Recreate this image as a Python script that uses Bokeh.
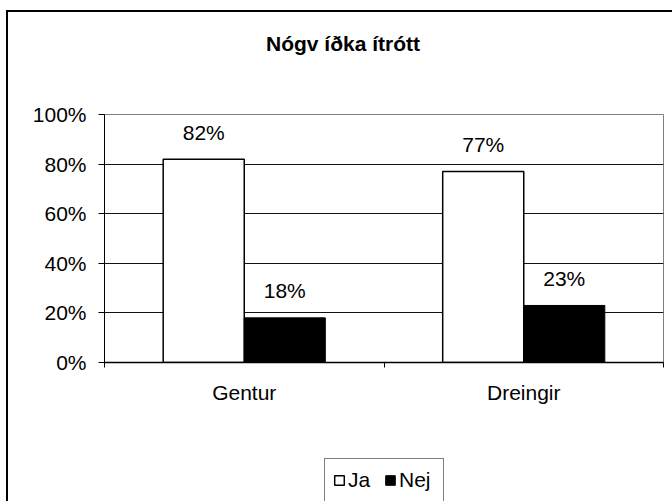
from bokeh.plotting import figure
from bokeh.layouts import column
from bokeh.models import (Range1d, FixedTicker, NumeralTickFormatter, Legend, LegendItem,
                          ColumnDataSource, Label)
from bokeh.core.properties import value
from bokeh.embed import file_html
from bokeh.resources import INLINE

# ---- data ----
title_text = "Nógv íðka ítrótt"
categories = ["Gentur", "Dreingir"]
series_names = ["Ja", "Nej"]
ja_values = [0.82, 0.77]
nej_values = [0.18, 0.23]
ja_labels = ["82%", "77%"]
nej_labels = ["18%", "23%"]
y_ticks = [0, 0.2, 0.4, 0.6, 0.8, 1.0]

FONT = "Liberation Sans"
FS = "21px"
BAR_W = 0.29
W = 664


def strip_fig(h, x_range, y_range):
    f = figure(width=W, height=h, output_backend="svg", toolbar_location=None,
               x_range=x_range, y_range=y_range,
               x_axis_type=None, y_axis_type=None,
               min_border_left=0, min_border_right=0, min_border_top=0, min_border_bottom=0)
    f.outline_line_color = None
    f.grid.visible = False
    f.background_fill_color = "white"
    f.border_fill_color = "white"
    return f


# ---- title strip ----
p_top = strip_fig(62, Range1d(0, 1), Range1d(0, 1))
p_top.add_layout(Label(x=0.5, y=0.5, x_offset=-41, text=title_text,
                       text_align="center", text_baseline="middle",
                       text_font=FONT, text_font_size="21px", text_font_style="bold",
                       text_color="black"))

# ---- main chart ----
p = figure(width=W, height=376, output_backend="svg", toolbar_location=None,
           x_range=Range1d(0, len(categories)), y_range=Range1d(0, 1),
           min_border_left=96, min_border_right=9, min_border_top=40, min_border_bottom=88)
p.background_fill_color = "white"
p.border_fill_color = "white"
p.outline_line_color = "#808080"
p.outline_line_width = 1

centers = [i + 0.5 for i in range(len(categories))]
ja_src = ColumnDataSource(dict(x=[c - BAR_W / 2 for c in centers], top=ja_values, lab=ja_labels))
nej_src = ColumnDataSource(dict(x=[c + BAR_W / 2 for c in centers], top=nej_values, lab=nej_labels))

JA_STYLE = dict(fill_color="white", line_color="black", line_width=1.5)
NEJ_STYLE = dict(fill_color="black", line_color="black", line_width=1)

p.vbar(x="x", top="top", width=BAR_W, bottom=0, source=ja_src, **JA_STYLE)
p.vbar(x="x", top="top", width=BAR_W, bottom=0, source=nej_src, **NEJ_STYLE)

for src in (ja_src, nej_src):
    p.text(x="x", y="top", text="lab", source=src, text_align="center", text_baseline="middle",
           y_offset=-27, text_font=value(FONT), text_font_size=FS, text_color="black")

xa = p.xaxis[0]
xa.ticker = FixedTicker(ticks=centers, minor_ticks=list(range(len(categories) + 1)))
xa.major_label_overrides = {c: name for c, name in zip(centers, categories)}
xa.major_tick_out = 0
xa.major_tick_in = 0
xa.minor_tick_out = 5
xa.minor_tick_in = 0
xa.minor_tick_line_color = "black"
xa.axis_line_color = "black"
xa.axis_line_width = 1.5
xa.major_label_standoff = 13
xa.major_label_text_font = FONT
xa.major_label_text_font_size = FS
xa.major_label_text_color = "black"

ya = p.yaxis[0]
ya.ticker = FixedTicker(ticks=y_ticks)
ya.formatter = NumeralTickFormatter(format="0%")
ya.major_tick_out = 6
ya.major_tick_in = 0
ya.minor_tick_line_color = None
ya.axis_line_color = "black"
ya.major_tick_line_color = "black"
ya.major_label_standoff = 12
ya.major_label_text_font = FONT
ya.major_label_text_font_size = FS
ya.major_label_text_color = "black"

p.xgrid.grid_line_color = None
p.ygrid.ticker = FixedTicker(ticks=y_ticks[1:-1])
p.ygrid.grid_line_color = "#111111"
p.ygrid.grid_line_width = 1

# ---- legend strip (hidden renderers sharing the series sources; only their legend swatches show) ----
p_leg = strip_fig(51, Range1d(0, len(categories)), Range1d(0, 1))
leg_ja = p_leg.vbar(x="x", top="top", width=BAR_W, bottom=0, source=ja_src, visible=False, **JA_STYLE)
leg_nej = p_leg.vbar(x="x", top="top", width=BAR_W, bottom=0, source=nej_src, visible=False, **NEJ_STYLE)
legend = Legend(items=[LegendItem(label=series_names[0], renderers=[leg_ja]),
                       LegendItem(label=series_names[1], renderers=[leg_nej])],
                orientation="horizontal", location=(220, -1), margin=0,
                glyph_width=12, glyph_height=12, label_standoff=3, label_width=36,
                spacing=0, padding=8, label_height=26,
                label_text_font=FONT, label_text_font_size=FS, label_text_color="black",
                border_line_color="black", border_line_width=1.2,
                background_fill_color="white", background_fill_alpha=1,
                inactive_fill_alpha=0)
p_leg.add_layout(legend, "center")

page = column(p_top, p, p_leg, spacing=0,
              styles={"margin-left": "6px", "margin-top": "10px",
                      "border-left": "2px solid black", "border-top": "2px solid black"})

open("out.html", "w").write(file_html(page, INLINE))
